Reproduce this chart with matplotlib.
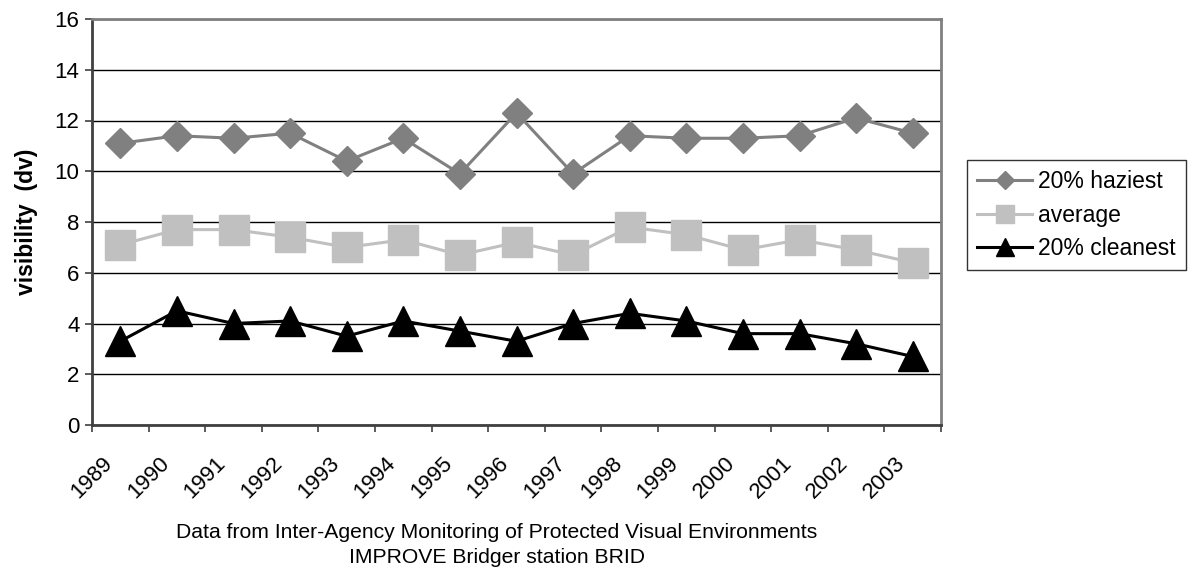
import matplotlib
matplotlib.use("Agg")
import matplotlib.pyplot as plt
import numpy as np

years = ["1989", "1990", "1991", "1992", "1993", "1994", "1995", "1996",
         "1997", "1998", "1999", "2000", "2001", "2002", "2003"]
haziest = [11.1, 11.4, 11.3, 11.5, 10.4, 11.3, 9.9, 12.3, 9.9, 11.4, 11.3, 11.3, 11.4, 12.1, 11.5]
average = [7.1, 7.7, 7.7, 7.4, 7.0, 7.3, 6.7, 7.2, 6.7, 7.8, 7.5, 6.9, 7.3, 6.9, 6.4]
cleanest = [3.3, 4.5, 4.0, 4.1, 3.5, 4.1, 3.7, 3.3, 4.0, 4.4, 4.1, 3.6, 3.6, 3.2, 2.7]
yticks = [0, 2, 4, 6, 8, 10, 12, 14, 16]

plt.rcParams['font.family'] = ['Liberation Sans', 'DejaVu Sans']

fig = plt.figure(figsize=(11.90, 5.69), dpi=100)
ax = fig.add_axes([92/1190, 1-425/569, (941-92)/1190, (425-19)/569])

x = np.arange(len(years)) + 0.5
ax.plot(x, haziest, color='#808080', lw=2.2, marker='D', ms=15.6,
        mfc='#808080', mec='#808080', label='20% haziest', zorder=3)
ax.plot(x, average, color='#C0C0C0', lw=2.2, marker='s', ms=22,
        mfc='#C0C0C0', mec='#C0C0C0', label='average', zorder=3)
ax.plot(x, cleanest, color='black', lw=2.2, marker='^', ms=22,
        mfc='black', mec='black', label='20% cleanest', zorder=3)

ax.set_xlim(0, len(years))
ax.set_ylim(0, 16)
ax.set_yticks(yticks)
ax.set_yticklabels([str(v) for v in yticks], fontsize=16)
ax.set_xticks(np.arange(len(years) + 1))
ax.set_xticklabels(years + [""], fontsize=16, rotation=45, ha='center', va='top')
ax.tick_params(axis='x', length=5, width=1.2, color='#404040', pad=15, direction='out')
ax.tick_params(axis='y', length=5, width=1.2, color='#404040', pad=4, direction='out')

ax.yaxis.grid(True, color='black', lw=1)
ax.set_axisbelow(True)
for s in ['top', 'right']:
    ax.spines[s].set_color('#808080')
    ax.spines[s].set_linewidth(2)
for s in ['left', 'bottom']:
    ax.spines[s].set_color('#404040')
    ax.spines[s].set_linewidth(2)

fig.text(27/1190, 1-222/569, 'visibility  (dv)', rotation=90, fontsize=16.5,
         fontweight='bold', ha='center', va='center')

fig.text(497/1190, 1-538/569, 'Data from Inter-Agency Monitoring of Protected Visual Environments',
         fontsize=15.2, ha='center', va='baseline')
fig.text(497/1190, 1-563/569, 'IMPROVE Bridger station BRID',
         fontsize=15.2, ha='center', va='baseline')

leg = fig.legend(loc='upper left', bbox_to_anchor=(967/1190, 1-160/569),
                 fontsize=16.5, frameon=True, fancybox=False, edgecolor='black',
                 handlelength=2.4, handletextpad=0.26, borderpad=0.45,
                 labelspacing=0.45, borderaxespad=0, markerscale=0.62)
leg.get_frame().set_linewidth(1)

fig.savefig('out.png', dpi=100)
